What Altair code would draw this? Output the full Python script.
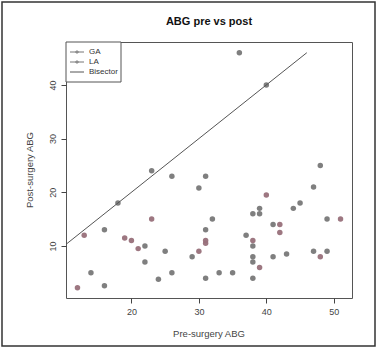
import altair as alt
import pandas as pd

# Data
ga_pre  = [36, 40, 48, 23, 26, 18, 30, 31, 32, 31, 16, 22, 22, 14, 16, 24, 25, 26, 29, 31, 33, 35, 37, 38, 38, 38, 38, 39, 39, 41, 41, 43, 44, 45, 47, 49, 38, 47, 49]
ga_post = [46, 40, 25, 24, 23, 18, 20.8, 23, 15, 13, 13, 10, 7, 5, 2.6, 3.8, 9, 5, 8, 4, 5, 5, 12, 8, 7, 4, 16, 17, 16, 14, 8, 8.5, 17, 18, 21, 15, 10, 9, 9]
la_pre  = [12, 13, 19, 20, 21, 23, 30, 31, 31, 38, 39, 40, 42, 42, 48, 51]
la_post = [2.2, 12, 11.5, 11, 9.5, 15, 9, 11, 10.5, 11, 6, 19.5, 14, 12.5, 8, 15]
bis_x = [10, 46]
x_ticks = [20, 30, 40, 50]
y_ticks = [10, 20, 30, 40]

pts = pd.DataFrame({
    "pre": ga_pre + la_pre,
    "post": ga_post + la_post,
    "group": ["GA"] * len(ga_pre) + ["LA"] * len(la_pre),
})
bis = pd.DataFrame({"pre": bis_x, "post": bis_x})

W, H = 286, 256
xs = alt.Scale(domain=[10.3, 52.7], nice=False, zero=False)
ys = alt.Scale(domain=[0.3, 48], nice=False, zero=False)

axis_col = "#444444"
font = "Liberation Sans"

x_axis = alt.Axis(values=x_ticks, grid=False, domain=False, tickSize=5, tickColor=axis_col,
                  labelColor=axis_col, labelFont=font, labelFontSize=9, labelPadding=4, title=None)
y_axis = alt.Axis(values=y_ticks, grid=False, domain=False, tickSize=5, tickColor=axis_col,
                  labelColor=axis_col, labelFont=font, labelFontSize=9, labelPadding=4,
                  labelAngle=270, labelAlign="center", labelBaseline="bottom", title=None)

points = alt.Chart(pts).mark_circle(size=30, opacity=0.95).encode(
    x=alt.X("pre:Q", scale=xs, axis=x_axis),
    y=alt.Y("post:Q", scale=ys, axis=y_axis),
    color=alt.Color("group:N", scale=alt.Scale(domain=["GA", "LA"], range=["#787878", "#98707a"]), legend=None),
)

line = alt.Chart(bis).mark_line(color="#555555", strokeWidth=1, clip=True).encode(
    x=alt.X("pre:Q", scale=xs), y=alt.Y("post:Q", scale=ys)
)

def txt(s, x, y, size=9, weight="normal", angle=0, color=axis_col, align="center"):
    return alt.Chart(pd.DataFrame({"t": [s]})).mark_text(
        font=font, fontSize=size, fontWeight=weight, angle=angle, color=color, align=align, baseline="middle"
    ).encode(text="t:N", x=alt.value(x), y=alt.value(y))

title = txt("ABG pre vs post", W / 2, -20, size=11, weight="bold", color="#111111")
xtitle = txt("Pre-surgery ABG", W / 2, 292, size=9.5)
ytitle = txt("Post-surgery ABG", -36, H / 2, size=9.5, angle=270)

# outer frame
frame = alt.Chart(pd.DataFrame({"a": [0]})).mark_rect(fill=None, stroke="#333333", strokeWidth=1.5).encode(
    x=alt.value(-64), x2=alt.value(309), y=alt.value(-40), y2=alt.value(304)
)

# legend
leg_box = alt.Chart(pd.DataFrame({"a": [0]})).mark_rect(fill="white", stroke="#555555", strokeWidth=1).encode(
    x=alt.value(0), x2=alt.value(55), y=alt.value(0), y2=alt.value(40)
)
leg_layers = [leg_box]
for i, (lab, col, has_pt) in enumerate([("GA", "#767676", True), ("LA", "#767676", True), ("Bisector", "#555555", False)]):
    yy = 10 + i * 10
    leg_layers.append(alt.Chart(pd.DataFrame({"a": [0]})).mark_rule(color=col, strokeWidth=1).encode(
        x=alt.value(4), x2=alt.value(18), y=alt.value(yy)))
    if has_pt:
        leg_layers.append(alt.Chart(pd.DataFrame({"a": [0]})).mark_point(shape="cross", size=14, filled=True, color=col).encode(
            x=alt.value(11), y=alt.value(yy)))
    leg_layers.append(txt(lab, 23, yy, size=8, align="left", color="#333333"))

chart = alt.layer(points, line, frame, title, xtitle, ytitle, *leg_layers).properties(
    width=W, height=H,
    autosize=alt.AutoSizeParams(type="none"),
    padding={"left": 66, "top": 42, "right": 26, "bottom": 52},
    background="white",
).configure_view(stroke="#555555", strokeWidth=1)

chart.save("out.html", embed_options={"renderer": "svg", "actions": False})
